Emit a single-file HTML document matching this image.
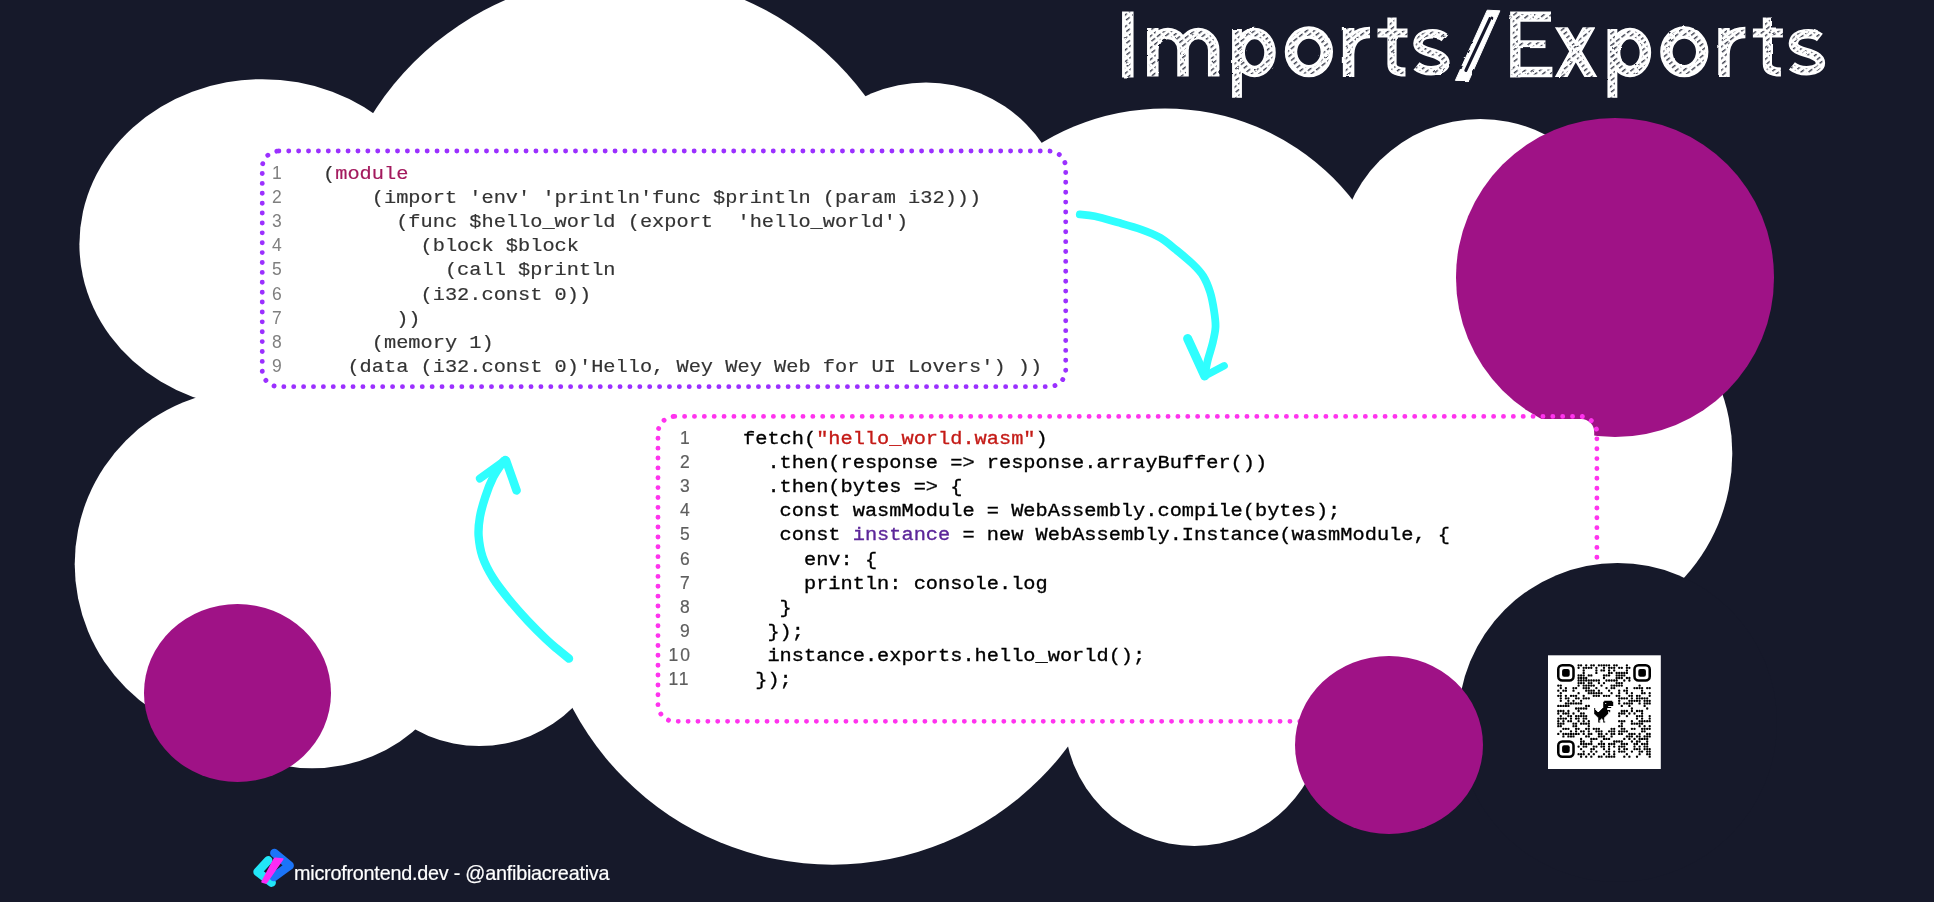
<!DOCTYPE html>
<html><head><meta charset="utf-8"><title>Imports/Exports</title>
<style>
html,body{margin:0;padding:0}
body{width:1934px;height:902px;overflow:hidden;position:relative;background:#16192a;font-family:"Liberation Sans",sans-serif}
.abs{position:absolute}
#cloud{left:0;top:0}
.pink{background:#9f1286;border-radius:50%}
.ln{position:absolute;font-family:"Liberation Sans",sans-serif;font-size:17.5px;color:#858585;line-height:24.12px;white-space:pre;will-change:transform}
.code{position:absolute;font-family:"Liberation Mono",monospace;font-size:20.32px;line-height:24.12px;white-space:pre;color:#333;will-change:transform}
.code div,.ln div{height:24.12px}
.code div{transform:scaleY(0.91);transform-origin:0 17.5px}
#c1{-webkit-text-stroke-width:0.2px}
#c2{-webkit-text-stroke-width:0.35px}
#foot{left:294px;top:860.3px;color:#fff;font-size:19.8px;letter-spacing:-0.23px;line-height:26px;white-space:pre;will-change:transform;-webkit-text-stroke-width:0.2px}
</style></head><body>
<svg id="cloud" class="abs" width="1934" height="902" viewBox="0 0 1934 902">
<g fill="#fff">
<circle cx="625" cy="274" r="299"/>
<ellipse cx="262.3" cy="244.3" rx="182.9" ry="165.1"/>
<circle cx="249.8" cy="564.2" r="175.1"/>
<circle cx="312.1" cy="610.6" r="157.6"/>
<circle cx="479.4" cy="613" r="133"/>
<circle cx="832.4" cy="570.7" r="294"/>
<circle cx="1194.3" cy="716" r="130"/>
<circle cx="926" cy="224" r="141.5"/>
<circle cx="1165" cy="346.4" r="238"/>
<circle cx="1480.4" cy="261.2" r="142.3"/>
<circle cx="1548.6" cy="453.6" r="183.7"/>
<rect x="300" y="300" width="1250" height="330"/>
</g>
</svg>
<div class="abs pink" style="left:1455.5px;top:118px;width:318.5px;height:318.5px"></div>

<svg class="abs" style="left:0;top:0" width="1934" height="902" viewBox="0 0 1934 902" fill="none"><rect x="262.25" y="151.05" width="803.45" height="235.6" rx="16.6" stroke="#9b30ff" stroke-width="4.9" stroke-linecap="round" stroke-dasharray="0.01 9.878"/></svg>
<div class="ln" style="left:272.3px;top:161.1px;color:#7f7f7f"><div>1</div><div>2</div><div>3</div><div>4</div><div>5</div><div>6</div><div>7</div><div>8</div><div>9</div></div>
<div class="code" id="c1" style="left:323.1px;top:161.7px;"><div>(<span style="color:#a3195d">module</span></div><div>    (import 'env' 'println'func $println (param i32)))</div><div>      (func $hello_world (export  'hello_world')</div><div>        (block $block</div><div>          (call $println</div><div>        (i32.const 0))</div><div>      ))</div><div>    (memory 1)</div><div>  (data (i32.const 0)'Hello, Wey Wey Web for UI Lovers') ))</div></div>

<svg class="abs" style="left:0;top:0" width="1934" height="902" viewBox="0 0 1934 902" fill="none"><rect x="660.4" y="419" width="933.8" height="300" rx="13" fill="#fff"/><rect x="657.98" y="416.4" width="938.92" height="304.95" rx="16.75" stroke="#ff33ee" stroke-width="4.9" stroke-linecap="round" stroke-dasharray="0.01 9.856"/></svg>
<div class="ln" style="left:680.4px;top:426.3px;color:#5e5e5e;-webkit-text-stroke-width:0.2px"><div>1</div><div>2</div><div>3</div><div>4</div><div>5</div><div>6</div><div>7</div><div>8</div><div>9</div><div style="margin-left:-11.6px;letter-spacing:2px">10</div><div style="margin-left:-11.6px;letter-spacing:2px">11</div></div>
<div class="code" id="c2" style="left:743.3px;top:427.1px;color:#000"><div>fetch(<span style="color:#c41a16">"hello_world.wasm"</span>)</div><div>  .then(response =&gt; response.arrayBuffer())</div><div>  .then(bytes =&gt; {</div><div>   const wasmModule = WebAssembly.compile(bytes);</div><div>   const <span style="color:#5c2699">instance</span> = new WebAssembly.Instance(wasmModule, {</div><div>     env: {</div><div>     println: console.log</div><div>   }</div><div>  });</div><div>  instance.exports.hello_world();</div><div> });</div></div>

<div class="abs" style="left:1458px;top:562.5px;width:319px;height:319px;border-radius:50%;background:#16192a"></div>
<div class="abs pink" style="left:143.5px;top:603.5px;width:187.5px;height:178px"></div>
<div class="abs pink" style="left:1295px;top:655.5px;width:187.5px;height:178px"></div>

<svg class="abs" style="left:0;top:0" width="1934" height="902" viewBox="0 0 1934 902" fill="none" stroke="#2ffefe" stroke-linecap="round" stroke-linejoin="round">
<path stroke-width="7.8" d="M1079.8 214.4C1082.3 214.7 1088.5 214.9 1094.9 216.3C1101.3 217.7 1110.4 220.4 1118.2 222.6C1126.0 224.8 1134.5 227.1 1141.5 229.6C1148.5 232.1 1154.3 234.3 1160.1 237.7C1165.9 241.1 1171.0 245.7 1176.4 250.1C1181.8 254.5 1188.2 259.7 1192.7 264.0C1197.2 268.3 1200.3 271.4 1203.2 276.1C1206.1 280.8 1208.4 286.6 1210.2 292.4C1212.0 298.2 1213.2 305.3 1214.1 311.1C1215.0 316.9 1215.8 322.0 1215.5 327.4C1215.2 332.8 1213.8 338.3 1212.5 343.7C1211.2 349.1 1209.1 354.8 1207.8 360.0C1206.5 365.2 1205.3 372.6 1204.8 375.1"/>
<path stroke-width="9" d="M1187.6 338.5L1204.8 376"/><path stroke-width="7.5" d="M1204.8 376L1224.1 365.8"/>
<path stroke-width="8.4" d="M569.0 658.6C567.0 657.0 560.8 652.0 557.0 648.8C553.2 645.6 551.3 644.1 546.4 639.5C541.5 634.9 534.0 627.5 527.8 620.9C521.6 614.2 514.9 606.7 509.1 599.6C503.3 592.5 497.6 585.4 493.2 578.3C488.8 571.2 485.0 564.1 482.6 557.0C480.2 549.9 479.1 542.4 478.6 535.7C478.2 529.1 478.8 523.5 479.9 517.1C481.0 510.7 483.0 503.9 485.2 497.2C487.4 490.5 490.3 483.0 493.2 477.2C496.1 471.4 500.5 465.5 502.5 462.6C504.5 459.7 504.8 460.4 505.2 460.0"/>
<path stroke-width="8" d="M479.9 478.6L503.5 461.5"/><path stroke-width="8.5" d="M506 460.5L516.6 490.5"/>
</svg>

<svg class="abs" style="left:0;top:0" width="1934" height="902" viewBox="0 0 1934 902">
<rect x="1548" y="655.3" width="112.8" height="113.7" fill="#fff"/>
<rect x="1558.27" y="665.27" width="15.24" height="15.24" rx="4.06" fill="none" stroke="#000" stroke-width="2.54"/><rect x="1562.08" y="669.08" width="7.62" height="7.62" rx="2.03" fill="#000"/><rect x="1634.49" y="665.27" width="15.24" height="15.24" rx="4.06" fill="none" stroke="#000" stroke-width="2.54"/><rect x="1638.30" y="669.08" width="7.62" height="7.62" rx="2.03" fill="#000"/><rect x="1558.27" y="741.49" width="15.24" height="15.24" rx="4.06" fill="none" stroke="#000" stroke-width="2.54"/><rect x="1562.08" y="745.30" width="7.62" height="7.62" rx="2.03" fill="#000"/>
<path d="M1578.6 665.3h0M1581.1 665.3h0M1586.2 665.3h0M1591.3 665.3h0M1593.8 665.3h0M1598.9 665.3h0M1601.5 665.3h0M1604.0 665.3h0M1606.5 665.3h0M1609.1 665.3h0M1614.2 665.3h0M1616.7 665.3h0M1626.9 665.3h0M1578.6 667.8h0M1583.7 667.8h0M1586.2 667.8h0M1588.8 667.8h0M1591.3 667.8h0M1596.4 667.8h0M1604.0 667.8h0M1609.1 667.8h0M1611.6 667.8h0M1614.2 667.8h0M1619.2 667.8h0M1621.8 667.8h0M1626.9 667.8h0M1629.4 667.8h0M1583.7 670.4h0M1596.4 670.4h0M1601.5 670.4h0M1604.0 670.4h0M1609.1 670.4h0M1614.2 670.4h0M1626.9 670.4h0M1583.7 672.9h0M1596.4 672.9h0M1609.1 672.9h0M1611.6 672.9h0M1616.7 672.9h0M1619.2 672.9h0M1621.8 672.9h0M1624.3 672.9h0M1626.9 672.9h0M1578.6 675.4h0M1581.1 675.4h0M1583.7 675.4h0M1588.8 675.4h0M1591.3 675.4h0M1604.0 675.4h0M1606.5 675.4h0M1609.1 675.4h0M1616.7 675.4h0M1619.2 675.4h0M1621.8 675.4h0M1624.3 675.4h0M1578.6 678.0h0M1581.1 678.0h0M1583.7 678.0h0M1586.2 678.0h0M1604.0 678.0h0M1616.7 678.0h0M1619.2 678.0h0M1621.8 678.0h0M1626.9 678.0h0M1629.4 678.0h0M1578.6 680.5h0M1581.1 680.5h0M1583.7 680.5h0M1586.2 680.5h0M1588.8 680.5h0M1591.3 680.5h0M1593.8 680.5h0M1596.4 680.5h0M1598.9 680.5h0M1606.5 680.5h0M1609.1 680.5h0M1611.6 680.5h0M1614.2 680.5h0M1616.7 680.5h0M1624.3 680.5h0M1629.4 680.5h0M1578.6 683.1h0M1581.1 683.1h0M1583.7 683.1h0M1588.8 683.1h0M1591.3 683.1h0M1598.9 683.1h0M1604.0 683.1h0M1616.7 683.1h0M1619.2 683.1h0M1621.8 683.1h0M1558.3 685.6h0M1560.8 685.6h0M1578.6 685.6h0M1583.7 685.6h0M1586.2 685.6h0M1588.8 685.6h0M1591.3 685.6h0M1593.8 685.6h0M1601.5 685.6h0M1611.6 685.6h0M1614.2 685.6h0M1616.7 685.6h0M1619.2 685.6h0M1621.8 685.6h0M1639.6 685.6h0M1560.8 688.1h0M1565.9 688.1h0M1573.5 688.1h0M1576.1 688.1h0M1583.7 688.1h0M1586.2 688.1h0M1588.8 688.1h0M1596.4 688.1h0M1606.5 688.1h0M1611.6 688.1h0M1614.2 688.1h0M1626.9 688.1h0M1634.5 688.1h0M1637.0 688.1h0M1639.6 688.1h0M1642.1 688.1h0M1647.2 688.1h0M1649.7 688.1h0M1558.3 690.7h0M1563.4 690.7h0M1565.9 690.7h0M1573.5 690.7h0M1586.2 690.7h0M1588.8 690.7h0M1591.3 690.7h0M1593.8 690.7h0M1598.9 690.7h0M1609.1 690.7h0M1619.2 690.7h0M1624.3 690.7h0M1626.9 690.7h0M1642.1 690.7h0M1560.8 693.2h0M1578.6 693.2h0M1588.8 693.2h0M1591.3 693.2h0M1593.8 693.2h0M1596.4 693.2h0M1598.9 693.2h0M1601.5 693.2h0M1611.6 693.2h0M1619.2 693.2h0M1626.9 693.2h0M1631.9 693.2h0M1642.1 693.2h0M1644.6 693.2h0M1649.7 693.2h0M1558.3 695.8h0M1560.8 695.8h0M1565.9 695.8h0M1571.0 695.8h0M1573.5 695.8h0M1576.1 695.8h0M1583.7 695.8h0M1593.8 695.8h0M1596.4 695.8h0M1598.9 695.8h0M1604.0 695.8h0M1606.5 695.8h0M1609.1 695.8h0M1616.7 695.8h0M1619.2 695.8h0M1629.4 695.8h0M1631.9 695.8h0M1637.0 695.8h0M1639.6 695.8h0M1649.7 695.8h0M1560.8 698.3h0M1565.9 698.3h0M1568.4 698.3h0M1576.1 698.3h0M1578.6 698.3h0M1583.7 698.3h0M1586.2 698.3h0M1588.8 698.3h0M1619.2 698.3h0M1621.8 698.3h0M1624.3 698.3h0M1626.9 698.3h0M1631.9 698.3h0M1637.0 698.3h0M1639.6 698.3h0M1642.1 698.3h0M1644.6 698.3h0M1647.2 698.3h0M1560.8 700.8h0M1568.4 700.8h0M1573.5 700.8h0M1581.1 700.8h0M1619.2 700.8h0M1629.4 700.8h0M1631.9 700.8h0M1634.5 700.8h0M1637.0 700.8h0M1639.6 700.8h0M1644.6 700.8h0M1647.2 700.8h0M1649.7 700.8h0M1565.9 703.4h0M1568.4 703.4h0M1571.0 703.4h0M1573.5 703.4h0M1576.1 703.4h0M1578.6 703.4h0M1581.1 703.4h0M1619.2 703.4h0M1624.3 703.4h0M1626.9 703.4h0M1629.4 703.4h0M1631.9 703.4h0M1639.6 703.4h0M1644.6 703.4h0M1647.2 703.4h0M1649.7 703.4h0M1558.3 705.9h0M1560.8 705.9h0M1563.4 705.9h0M1565.9 705.9h0M1568.4 705.9h0M1586.2 705.9h0M1588.8 705.9h0M1621.8 705.9h0M1629.4 705.9h0M1644.6 705.9h0M1576.1 708.5h0M1578.6 708.5h0M1581.1 708.5h0M1583.7 708.5h0M1586.2 708.5h0M1631.9 708.5h0M1647.2 708.5h0M1558.3 711.0h0M1560.8 711.0h0M1563.4 711.0h0M1568.4 711.0h0M1578.6 711.0h0M1621.8 711.0h0M1624.3 711.0h0M1626.9 711.0h0M1631.9 711.0h0M1637.0 711.0h0M1639.6 711.0h0M1642.1 711.0h0M1558.3 713.5h0M1563.4 713.5h0M1565.9 713.5h0M1568.4 713.5h0M1573.5 713.5h0M1581.1 713.5h0M1583.7 713.5h0M1619.2 713.5h0M1621.8 713.5h0M1624.3 713.5h0M1629.4 713.5h0M1634.5 713.5h0M1642.1 713.5h0M1560.8 716.1h0M1568.4 716.1h0M1571.0 716.1h0M1576.1 716.1h0M1578.6 716.1h0M1581.1 716.1h0M1583.7 716.1h0M1586.2 716.1h0M1619.2 716.1h0M1626.9 716.1h0M1637.0 716.1h0M1639.6 716.1h0M1642.1 716.1h0M1649.7 716.1h0M1558.3 718.6h0M1560.8 718.6h0M1563.4 718.6h0M1565.9 718.6h0M1571.0 718.6h0M1576.1 718.6h0M1578.6 718.6h0M1583.7 718.6h0M1586.2 718.6h0M1637.0 718.6h0M1642.1 718.6h0M1649.7 718.6h0M1558.3 721.2h0M1563.4 721.2h0M1568.4 721.2h0M1571.0 721.2h0M1578.6 721.2h0M1583.7 721.2h0M1588.8 721.2h0M1619.2 721.2h0M1621.8 721.2h0M1624.3 721.2h0M1631.9 721.2h0M1639.6 721.2h0M1642.1 721.2h0M1644.6 721.2h0M1647.2 721.2h0M1649.7 721.2h0M1558.3 723.7h0M1560.8 723.7h0M1563.4 723.7h0M1573.5 723.7h0M1576.1 723.7h0M1581.1 723.7h0M1583.7 723.7h0M1586.2 723.7h0M1588.8 723.7h0M1621.8 723.7h0M1631.9 723.7h0M1634.5 723.7h0M1637.0 723.7h0M1639.6 723.7h0M1642.1 723.7h0M1558.3 726.2h0M1560.8 726.2h0M1573.5 726.2h0M1576.1 726.2h0M1588.8 726.2h0M1619.2 726.2h0M1621.8 726.2h0M1639.6 726.2h0M1644.6 726.2h0M1649.7 726.2h0M1563.4 728.8h0M1565.9 728.8h0M1568.4 728.8h0M1576.1 728.8h0M1578.6 728.8h0M1586.2 728.8h0M1588.8 728.8h0M1593.8 728.8h0M1596.4 728.8h0M1598.9 728.8h0M1611.6 728.8h0M1614.2 728.8h0M1621.8 728.8h0M1624.3 728.8h0M1631.9 728.8h0M1634.5 728.8h0M1642.1 728.8h0M1644.6 728.8h0M1647.2 728.8h0M1649.7 728.8h0M1560.8 731.3h0M1571.0 731.3h0M1576.1 731.3h0M1581.1 731.3h0M1583.7 731.3h0M1588.8 731.3h0M1596.4 731.3h0M1598.9 731.3h0M1601.5 731.3h0M1609.1 731.3h0M1611.6 731.3h0M1614.2 731.3h0M1619.2 731.3h0M1621.8 731.3h0M1624.3 731.3h0M1626.9 731.3h0M1642.1 731.3h0M1644.6 731.3h0M1558.3 733.9h0M1563.4 733.9h0M1565.9 733.9h0M1568.4 733.9h0M1571.0 733.9h0M1573.5 733.9h0M1576.1 733.9h0M1578.6 733.9h0M1583.7 733.9h0M1588.8 733.9h0M1591.3 733.9h0M1598.9 733.9h0M1601.5 733.9h0M1606.5 733.9h0M1611.6 733.9h0M1614.2 733.9h0M1619.2 733.9h0M1621.8 733.9h0M1629.4 733.9h0M1631.9 733.9h0M1634.5 733.9h0M1639.6 733.9h0M1647.2 733.9h0M1649.7 733.9h0M1563.4 736.4h0M1568.4 736.4h0M1571.0 736.4h0M1573.5 736.4h0M1586.2 736.4h0M1588.8 736.4h0M1598.9 736.4h0M1601.5 736.4h0M1604.0 736.4h0M1611.6 736.4h0M1626.9 736.4h0M1629.4 736.4h0M1631.9 736.4h0M1637.0 736.4h0M1639.6 736.4h0M1644.6 736.4h0M1647.2 736.4h0M1649.7 736.4h0M1581.1 738.9h0M1591.3 738.9h0M1593.8 738.9h0M1596.4 738.9h0M1604.0 738.9h0M1606.5 738.9h0M1609.1 738.9h0M1624.3 738.9h0M1629.4 738.9h0M1634.5 738.9h0M1639.6 738.9h0M1642.1 738.9h0M1644.6 738.9h0M1647.2 738.9h0M1581.1 741.5h0M1583.7 741.5h0M1591.3 741.5h0M1601.5 741.5h0M1614.2 741.5h0M1616.7 741.5h0M1619.2 741.5h0M1621.8 741.5h0M1631.9 741.5h0M1637.0 741.5h0M1639.6 741.5h0M1647.2 741.5h0M1581.1 744.0h0M1583.7 744.0h0M1586.2 744.0h0M1588.8 744.0h0M1591.3 744.0h0M1598.9 744.0h0M1601.5 744.0h0M1604.0 744.0h0M1609.1 744.0h0M1611.6 744.0h0M1614.2 744.0h0M1621.8 744.0h0M1624.3 744.0h0M1626.9 744.0h0M1634.5 744.0h0M1637.0 744.0h0M1642.1 744.0h0M1644.6 744.0h0M1647.2 744.0h0M1578.6 746.6h0M1583.7 746.6h0M1586.2 746.6h0M1593.8 746.6h0M1596.4 746.6h0M1601.5 746.6h0M1604.0 746.6h0M1609.1 746.6h0M1614.2 746.6h0M1619.2 746.6h0M1621.8 746.6h0M1624.3 746.6h0M1634.5 746.6h0M1639.6 746.6h0M1644.6 746.6h0M1647.2 746.6h0M1581.1 749.1h0M1591.3 749.1h0M1593.8 749.1h0M1604.0 749.1h0M1609.1 749.1h0M1619.2 749.1h0M1624.3 749.1h0M1626.9 749.1h0M1634.5 749.1h0M1637.0 749.1h0M1639.6 749.1h0M1644.6 749.1h0M1647.2 749.1h0M1649.7 749.1h0M1583.7 751.6h0M1591.3 751.6h0M1596.4 751.6h0M1606.5 751.6h0M1609.1 751.6h0M1614.2 751.6h0M1619.2 751.6h0M1621.8 751.6h0M1624.3 751.6h0M1631.9 751.6h0M1639.6 751.6h0M1642.1 751.6h0M1647.2 751.6h0M1649.7 751.6h0M1578.6 754.2h0M1581.1 754.2h0M1583.7 754.2h0M1588.8 754.2h0M1593.8 754.2h0M1604.0 754.2h0M1609.1 754.2h0M1614.2 754.2h0M1626.9 754.2h0M1639.6 754.2h0M1647.2 754.2h0M1649.7 754.2h0M1581.1 756.7h0M1586.2 756.7h0M1591.3 756.7h0M1598.9 756.7h0M1601.5 756.7h0M1606.5 756.7h0M1609.1 756.7h0M1611.6 756.7h0M1614.2 756.7h0M1624.3 756.7h0M1629.4 756.7h0M1637.0 756.7h0M1649.7 756.7h0" stroke="#000" stroke-width="2.34" stroke-linecap="round" fill="none"/>
<path d="M1604.2 700.8h8.0v1.1h-8.0zM1603.2 701.8h10.0v1.1h-10.0zM1603.2 702.9h2.0v1.1h-2.0zM1606.2 702.9h7.0v1.1h-7.0zM1603.2 703.9h10.0v1.1h-10.0zM1603.2 704.9h10.0v1.1h-10.0zM1603.2 705.9h5.0v1.1h-5.0zM1603.2 707.0h8.0v1.1h-8.0zM1594.2 708.0h1.0v1.1h-1.0zM1602.2 708.0h5.0v1.1h-5.0zM1594.2 709.0h1.0v1.1h-1.0zM1601.2 709.0h6.0v1.1h-6.0zM1594.2 710.1h2.0v1.1h-2.0zM1600.2 710.1h10.0v1.1h-10.0zM1594.2 711.1h3.0v1.1h-3.0zM1599.2 711.1h9.0v1.1h-9.0zM1609.2 711.1h1.0v1.1h-1.0zM1594.2 712.1h14.0v1.1h-14.0zM1594.2 713.2h14.0v1.1h-14.0zM1595.2 714.2h12.0v1.1h-12.0zM1596.2 715.2h10.0v1.1h-10.0zM1597.2 716.2h8.0v1.1h-8.0zM1598.2 717.3h6.0v1.1h-6.0zM1598.2 718.3h3.0v1.1h-3.0zM1602.2 718.3h2.0v1.1h-2.0zM1598.2 719.3h2.0v1.1h-2.0zM1603.2 719.3h1.0v1.1h-1.0zM1598.2 720.4h1.0v1.1h-1.0zM1603.2 720.4h1.0v1.1h-1.0zM1598.2 721.4h2.0v1.1h-2.0zM1603.2 721.4h2.0v1.1h-2.0z" fill="#000"/>
</svg>

<svg id="title" class="abs" style="left:0;top:0" width="1934" height="110" viewBox="0 0 1934 110" fill="none">
<defs>
<pattern id="hatch" width="7" height="4.6" patternUnits="userSpaceOnUse" patternTransform="rotate(-38)"><rect width="4.6" height="1.4" fill="#16192a"/></pattern>
<filter id="rough" x="-2%" y="-10%" width="104%" height="120%"><feTurbulence type="fractalNoise" baseFrequency="0.09" numOctaves="2" seed="4" result="n"/><feDisplacementMap in="SourceGraphic" in2="n" scale="2.2"/></filter>
<clipPath id="xc"><rect x="1540" y="27.3" width="70" height="49.8"/></clipPath>
<g id="ports">
<path d="M1237 29V97.8" style="stroke-width:calc(var(--w)*.86)"/><ellipse cx="1254.6" cy="52.5" rx="15.4" ry="19"/>
<ellipse cx="1308.9" cy="51.8" rx="17.9" ry="19.3" style="stroke-width:calc(var(--w)*1.08)"/>
<path d="M1348.6 28V77M1348.6 54C1349 40 1357 32.5 1370 32.5"/>
<path d="M1392 17.6V64Q1392 72 1405.5 72M1377.5 33H1407.5" style="stroke-width:calc(var(--w)*.8)"/>
<path d="M1444.5 37.5C1438 32.3 1418.5 31.5 1418 43.5C1417.6 54 1445 51 1445 63C1445 72.2 1425 73 1416.5 66" style="stroke-width:calc(var(--w)*.82)"/>
</g>
<g id="ttl">
<path d="M1127.8 11.5V77.5"/>
<path d="M1152.8 76.5V28M1152.8 50A15.1 16.5 0 0 1 1183 50V76.5M1183 50A15.35 16.5 0 0 1 1213.7 50V76.5"/>
<use href="#ports"/>
<path d="M1515.3 11.4V77.5M1510.3 16.6H1551M1510.3 72H1552.4" style="stroke-width:calc(var(--w)*.9)"/><path d="M1515 44.2H1545.5" style="stroke-width:calc(var(--w)*.68)"/>
<path clip-path="url(#xc)" d="M1558.3 22L1593.8 82M1592 22L1558.4 82" style="stroke-width:calc(var(--w)*.97)"/>
<use href="#ports" transform="translate(375.4 0)"/>
</g>
</defs>
<g filter="url(#rough)">
<use href="#ttl" stroke="#fff" style="--w:11.5px;stroke-width:11.5px"/>
<use href="#ttl" stroke="url(#hatch)" style="--w:5.8px;stroke-width:5.8px" opacity="0.85"/>
<path d="M1487.2 10.2L1499.9 10.8L1468.8 80.6L1455.4 80.4Z" fill="#fff" stroke="#fff" stroke-width="1" stroke-linejoin="round"/>
<path d="M1490.8 17L1465.8 70.5" stroke="#16192a" stroke-width="3" stroke-linecap="round"/>
</g>
</svg>

<svg class="abs" style="left:245px;top:840px" width="60" height="55" viewBox="245 840 60 55" fill="none" stroke-linecap="round" stroke-linejoin="round">
<path d="M268.2 860.3L257.6 871.8L271.6 882.6" stroke="#22e6f8" stroke-width="8.6"/>
<path d="M274.4 853L289.6 865.6L273.8 877" stroke="#1b74f8" stroke-width="8.6"/>
<path d="M275.2 857.6L283 858.2Q284 858.4 283.4 859.4L267 883.2Q266.3 884 265.3 883.7L262 882.8Q260.8 882.3 261.4 881.2L273.6 858.6Q274.2 857.6 275.2 857.6Z" fill="#fb2cf4"/>
</svg>
<div id="foot" class="abs">microfrontend.dev - @anfibiacreativa</div>
</body></html>
